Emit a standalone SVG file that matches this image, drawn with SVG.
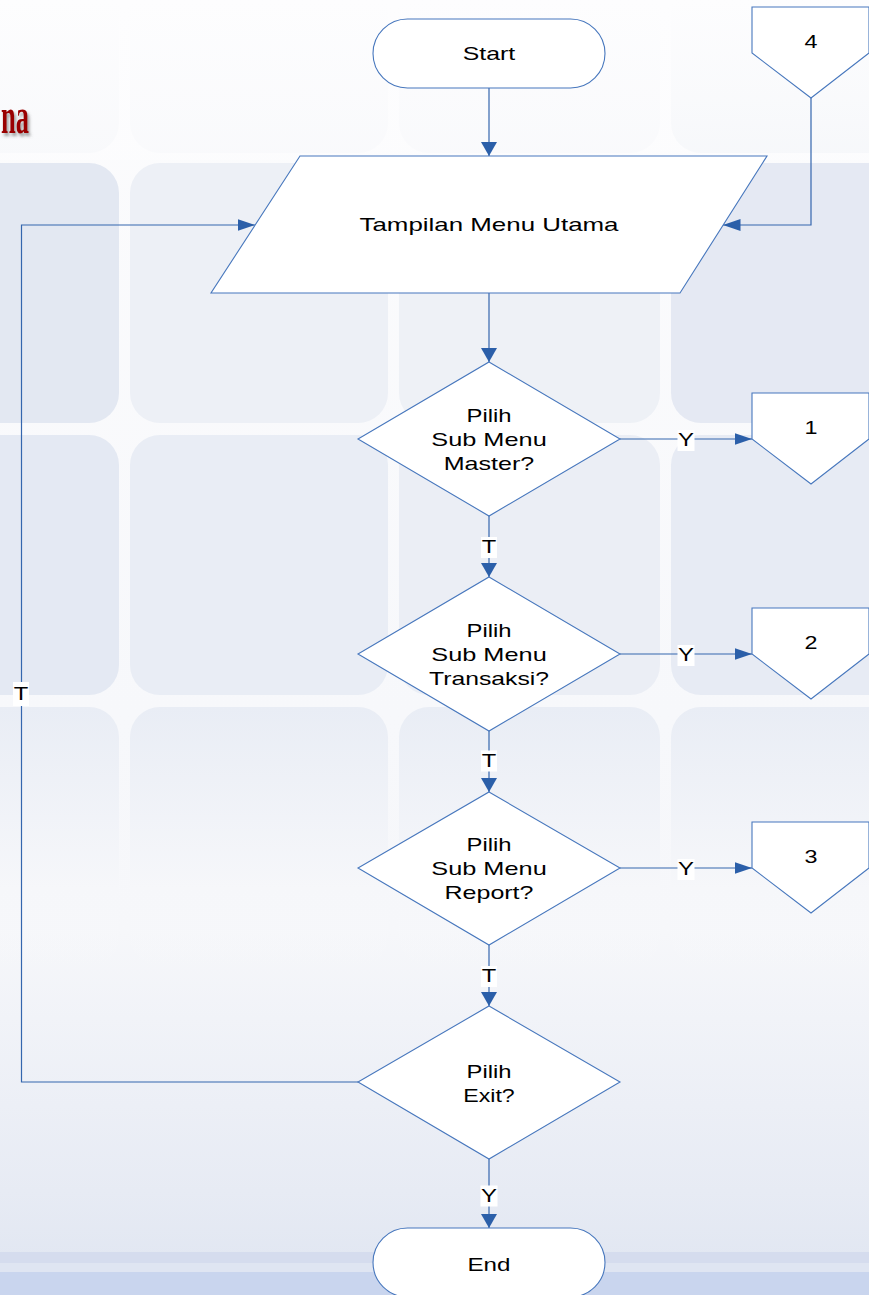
<svg xmlns="http://www.w3.org/2000/svg" width="869" height="1295" viewBox="0 0 869 1295">
<defs>
<style>
.t{font-family:"Liberation Sans",Arial,sans-serif;font-size:19px;fill:#000;text-anchor:middle}
.shape{fill:#fff;stroke:#4777bd;stroke-width:1.1}
.ln{fill:none;stroke:#3466ae;stroke-width:1.2}
.v{marker-end:url(#av)}
.h{marker-end:url(#ah)}
.lb{fill:#fff}
.tile{stroke:none}
</style>
<marker id="av" markerUnits="userSpaceOnUse" markerWidth="15" markerHeight="16" refX="14" refY="8" orient="auto"><path d="M0,0 L14,8 L0,16 Z" fill="#2b5fa9"/></marker>
<marker id="ah" markerUnits="userSpaceOnUse" markerWidth="18" markerHeight="13" refX="17.5" refY="6.5" orient="auto"><path d="M0,0.5 L17.5,6.5 L0,12.5 Z" fill="#2b5fa9"/></marker>
<linearGradient id="bg" x1="0" y1="0" x2="0" y2="1">
<stop offset="0" stop-color="#fcfcfd"/>
<stop offset="0.55" stop-color="#f7f8fb"/>
<stop offset="0.72" stop-color="#f6f7fa"/>
<stop offset="0.92" stop-color="#e7ebf4"/>
<stop offset="1" stop-color="#dfe5f1"/>
</linearGradient>
<linearGradient id="fadeTop" x1="0" y1="0" x2="0" y2="1">
<stop offset="0" stop-color="#fdfdfe" stop-opacity="1"/>
<stop offset="0.6" stop-color="#fdfdfe" stop-opacity="0.75"/>
<stop offset="1" stop-color="#fdfdfe" stop-opacity="0.55"/>
</linearGradient>
<linearGradient id="row4" x1="0" y1="0" x2="0" y2="1">
<stop offset="0" stop-color="#e9edf5"/>
<stop offset="0.7" stop-color="#f6f7fa"/>
<stop offset="1" stop-color="#f7f8fb" stop-opacity="0"/>
</linearGradient>
<filter id="sh" x="-20%" y="-20%" width="150%" height="150%"><feDropShadow dx="2" dy="3" stdDeviation="1.5" flood-color="#555" flood-opacity="0.55"/></filter>
</defs>

<g id="background">
<rect x="0" y="0" width="869" height="1295" fill="url(#bg)"/>
<g id="tiles-row1">
<rect class="tile" x="-140" y="-107" width="259" height="260" rx="30" fill="#f2f4f8"/>
<rect class="tile" x="130" y="-107" width="258" height="260" rx="30" fill="#f4f5f9"/>
<rect class="tile" x="399" y="-107" width="261" height="260" rx="30" fill="#f4f5f9"/>
<rect class="tile" x="671" y="-107" width="260" height="260" rx="30" fill="#eef1f6"/>
</g>
<g id="tiles-row2">
<rect class="tile" x="-140" y="163" width="259" height="260" rx="30" fill="#e3e8f2"/>
<rect class="tile" x="130" y="163" width="258" height="260" rx="30" fill="#edf0f6"/>
<rect class="tile" x="399" y="163" width="261" height="260" rx="30" fill="#eef1f6"/>
<rect class="tile" x="671" y="163" width="260" height="260" rx="30" fill="#e5e9f3"/>
</g>
<g id="tiles-row3">
<rect class="tile" x="-140" y="435" width="259" height="260" rx="30" fill="#e4e9f3"/>
<rect class="tile" x="130" y="435" width="258" height="260" rx="30" fill="#e9edf5"/>
<rect class="tile" x="399" y="435" width="261" height="260" rx="30" fill="#ebeef5"/>
<rect class="tile" x="671" y="435" width="260" height="260" rx="30" fill="#e7ebf4"/>
</g>
<g id="tiles-row4">
<rect class="tile" x="-140" y="707" width="259" height="260" rx="30" fill="url(#row4)"/>
<rect class="tile" x="130" y="707" width="258" height="260" rx="30" fill="url(#row4)"/>
<rect class="tile" x="399" y="707" width="261" height="260" rx="30" fill="url(#row4)"/>
<rect class="tile" x="671" y="707" width="260" height="260" rx="30" fill="url(#row4)"/>
</g>
<rect x="0" y="0" width="869" height="160" fill="url(#fadeTop)"/>
<rect x="0" y="1252" width="869" height="11" fill="#d5dcee"/>
<rect x="0" y="1263" width="869" height="9" fill="#dfe5f2"/>
<rect x="0" y="1272" width="869" height="23" fill="#c9d5ee"/>
</g>

<g id="title">
<text x="1" y="133" font-family="'Liberation Serif','Times New Roman',serif" font-weight="bold" font-size="50" fill="#9a0000" textLength="28" lengthAdjust="spacingAndGlyphs" filter="url(#sh)">na</text>
</g>

<g id="connectors">
<line class="ln v" x1="489" y1="88" x2="489" y2="156"/>
<line class="ln v" x1="489" y1="293" x2="489" y2="362"/>
<line class="ln v" x1="489" y1="516" x2="489" y2="577"/>
<line class="ln v" x1="489" y1="731" x2="489" y2="792"/>
<line class="ln v" x1="489" y1="945" x2="489" y2="1006"/>
<line class="ln v" x1="489" y1="1159" x2="489" y2="1228"/>
<line class="ln h" x1="620" y1="439" x2="752" y2="439"/>
<line class="ln h" x1="620" y1="654" x2="752" y2="654"/>
<line class="ln h" x1="620" y1="868" x2="752" y2="868"/>
<polyline class="ln h" points="811,98 811,225 723,225"/>
<polyline class="ln h" points="358,1082 21.5,1082 21.5,225 255,225"/>
<g id="labels">
<rect class="lb" x="677.5" y="430" width="17" height="21"/><text class="t" x="686" y="446" textLength="16" lengthAdjust="spacingAndGlyphs">Y</text>
<rect class="lb" x="677.5" y="645" width="17" height="21"/><text class="t" x="686" y="661" textLength="16" lengthAdjust="spacingAndGlyphs">Y</text>
<rect class="lb" x="677.5" y="859" width="17" height="21"/><text class="t" x="686" y="875" textLength="16" lengthAdjust="spacingAndGlyphs">Y</text>
<rect class="lb" x="481" y="537" width="16" height="21"/><text class="t" x="489" y="553.3" textLength="14.5" lengthAdjust="spacingAndGlyphs">T</text>
<rect class="lb" x="481" y="750.5" width="16" height="21"/><text class="t" x="489" y="766.7" textLength="14.5" lengthAdjust="spacingAndGlyphs">T</text>
<rect class="lb" x="481" y="966" width="16" height="21"/><text class="t" x="489" y="982.3" textLength="14.5" lengthAdjust="spacingAndGlyphs">T</text>
<rect class="lb" x="480.5" y="1185.5" width="17" height="21"/><text class="t" x="489" y="1201.7" textLength="16" lengthAdjust="spacingAndGlyphs">Y</text>
<rect class="lb" x="13" y="682" width="16" height="24"/><text class="t" x="21" y="700" textLength="14.5" lengthAdjust="spacingAndGlyphs">T</text>
</g>
</g>

<g id="start">
<rect class="shape" x="373" y="19" width="232" height="69" rx="34.5"/>
<text class="t" x="489" y="59.5" textLength="52.5" lengthAdjust="spacingAndGlyphs">Start</text>
</g>

<g id="menu-utama">
<polygon class="shape" points="300,156 767,156 680,293 211,293"/>
<text class="t" x="489" y="230.5" textLength="259" lengthAdjust="spacingAndGlyphs">Tampilan Menu Utama</text>
</g>

<g id="decision-master">
<polygon class="shape" points="489,362 620,439 489,516 358,439"/>
<text class="t" x="489" y="421.5" textLength="45" lengthAdjust="spacingAndGlyphs">Pilih</text>
<text class="t" x="489" y="446" textLength="115.5" lengthAdjust="spacingAndGlyphs">Sub Menu</text>
<text class="t" x="489" y="470" textLength="90.5" lengthAdjust="spacingAndGlyphs">Master?</text>
</g>

<g id="decision-transaksi">
<polygon class="shape" points="489,577 620,654 489,731 358,654"/>
<text class="t" x="489" y="636.7" textLength="45" lengthAdjust="spacingAndGlyphs">Pilih</text>
<text class="t" x="489" y="660.7" textLength="115.5" lengthAdjust="spacingAndGlyphs">Sub Menu</text>
<text class="t" x="489" y="684.5" textLength="120" lengthAdjust="spacingAndGlyphs">Transaksi?</text>
</g>

<g id="decision-report">
<polygon class="shape" points="489,792 620,868 489,945 358,868"/>
<text class="t" x="489" y="850.7" textLength="45" lengthAdjust="spacingAndGlyphs">Pilih</text>
<text class="t" x="489" y="875" textLength="115.5" lengthAdjust="spacingAndGlyphs">Sub Menu</text>
<text class="t" x="489" y="899" textLength="89" lengthAdjust="spacingAndGlyphs">Report?</text>
</g>

<g id="decision-exit">
<polygon class="shape" points="489,1006 620,1082 489,1159 358,1082"/>
<text class="t" x="489" y="1077.7" textLength="45" lengthAdjust="spacingAndGlyphs">Pilih</text>
<text class="t" x="489" y="1101.7" textLength="51.5" lengthAdjust="spacingAndGlyphs">Exit?</text>
</g>

<g id="end">
<rect class="shape" x="373" y="1228" width="232" height="69" rx="34.5"/>
<text class="t" x="489" y="1270.5" textLength="43" lengthAdjust="spacingAndGlyphs">End</text>
</g>

<g id="offpage-4">
<polygon class="shape" points="752,7 869,7 869,53 811,98 752,53"/>
<text class="t" x="811" y="48.3" textLength="13" lengthAdjust="spacingAndGlyphs">4</text>
</g>
<g id="offpage-1">
<polygon class="shape" points="752,393 869,393 869,439 811,484 752,439"/>
<text class="t" x="811" y="434.3" textLength="13" lengthAdjust="spacingAndGlyphs">1</text>
</g>
<g id="offpage-2">
<polygon class="shape" points="752,608 869,608 869,654 811,699 752,654"/>
<text class="t" x="811" y="649.3" textLength="13" lengthAdjust="spacingAndGlyphs">2</text>
</g>
<g id="offpage-3">
<polygon class="shape" points="752,822 869,822 869,868 811,913 752,868"/>
<text class="t" x="811" y="862.7" textLength="13" lengthAdjust="spacingAndGlyphs">3</text>
</g>
</svg>
